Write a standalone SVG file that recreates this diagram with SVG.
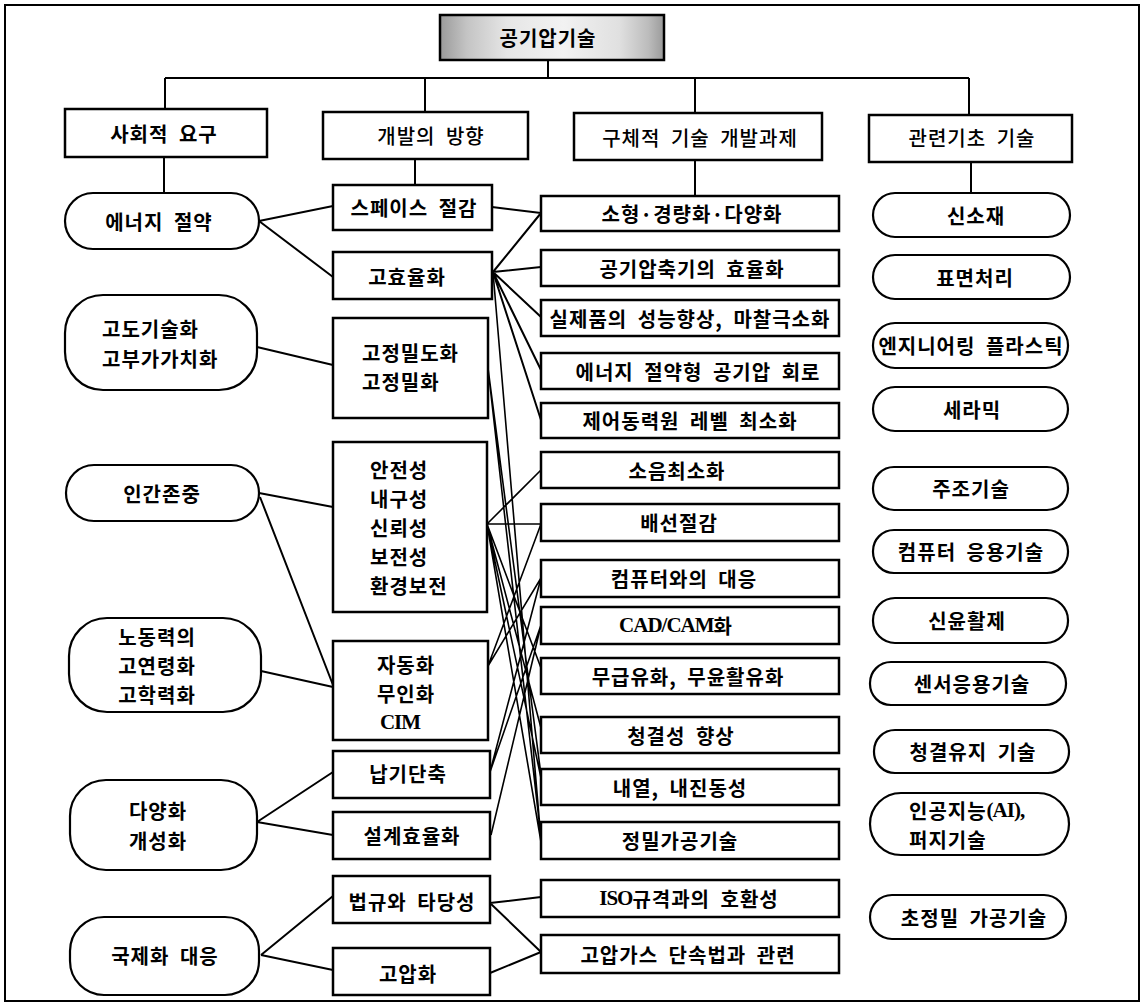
<svg xmlns="http://www.w3.org/2000/svg" width="1144" height="1005" viewBox="0 0 1144 1005">
<defs>
<linearGradient id="gTitle" x1="0" y1="0" x2="1" y2="0">
<stop offset="0" stop-color="#9a9a9a"/>
<stop offset="0.12" stop-color="#c4c4c4"/>
<stop offset="0.3" stop-color="#e6e6e6"/>
<stop offset="0.55" stop-color="#f2f2f2"/>
<stop offset="0.8" stop-color="#e0e0e0"/>
<stop offset="0.93" stop-color="#bcbcbc"/>
<stop offset="1" stop-color="#9a9a9a"/>
</linearGradient>
<style>
.box{fill:#fff;stroke:#000;stroke-width:2.5}
.rnd{fill:#fff;stroke:#000;stroke-width:2.2}
.t{font-family:"Noto Sans CJK KR","Noto Sans",sans-serif;font-size:20px;font-weight:700;letter-spacing:1px;word-spacing:5px;fill:#000;dominant-baseline:central}
.n{font-weight:500}
.c{text-anchor:middle}
.lat{font-family:"Liberation Serif",serif;font-size:21px;font-weight:700;letter-spacing:-1px}
.ln{fill:none;stroke:#000;stroke-width:2}
.lx{fill:none;stroke:#000;stroke-width:1.6}
</style>
</defs>
<rect x="0" y="0" width="1144" height="1005" fill="#fff"/>
<rect x="5" y="5" width="1134" height="996" fill="none" stroke="#000" stroke-width="2"/>

<g id="connectors">
<path class="ln" d="M548 60V78M165 78H969M165 78V109M425 78V112M695 78V113M969 78V115"/>
<path class="ln" d="M164 157V193M415 159V185M695 160V196M971 162V193"/>
<path class="ln" d="M259 221L333 206M259 221L333 277M257 347L333 365M259 493L333 507M260 497L333 685M261 671L333 687M257 822L333 772M257 822L333 835M261 955L333 896M261 955L333 970"/>
<path class="ln" d="M492 207L541 213M493 272L541 213M493 272L541 267M493 272L541 317M493 272L541 370M493 272L541 420"/>
<path class="lx" d="M493 272L541 840M488 368L541 775M488 368L541 838M487 524L541 470M487 524L541 524M487 524L541 668M487 524L541 728M487 524L541 778M487 524L541 842M488 666L541 524M488 666L541 578M490 772L541 578M490 772L541 625M491 835L541 625"/>
<path class="ln" d="M490 903L541 897M490 903L541 952M490 973L541 952"/>
</g>

<g id="title">
<rect x="440" y="15" width="224" height="45" fill="url(#gTitle)" stroke="#000" stroke-width="2.5"/>
<text class="t c" x="548" y="37">공기압기술</text>
</g>

<g id="h-social"><rect class="box" x="65" y="109" width="202" height="48"/><text class="t c" x="164" y="133">사회적 요구</text></g>
<g id="h-dev"><rect class="box" x="323" y="112" width="205" height="47"/><text class="t c n" x="431" y="135">개발의 방향</text></g>
<g id="h-task"><rect class="box" x="574" y="113" width="248" height="47"/><text class="t c n" x="700" y="137">구체적 기술 개발과제</text></g>
<g id="h-base"><rect class="box" x="869" y="115" width="203" height="47"/><text class="t c n" x="972" y="137">관련기초 기술</text></g>

<g id="s1"><rect class="rnd" x="65" y="193" width="194" height="56" rx="28"/><text class="t c" x="159" y="221">에너지 절약</text></g>
<g id="s2"><rect class="rnd" x="65" y="295" width="192" height="95" rx="38"/><text class="t" x="102" y="328">고도기술화</text><text class="t" x="102" y="358">고부가가치화</text></g>
<g id="s3"><rect class="rnd" x="66" y="465" width="193" height="56" rx="28"/><text class="t c" x="162" y="493">인간존중</text></g>
<g id="s4"><rect class="rnd" x="69" y="618" width="192" height="94" rx="38"/><text class="t c" x="157" y="636">노동력의</text><text class="t c" x="157" y="665">고연령화</text><text class="t c" x="157" y="694">고학력화</text></g>
<g id="s5"><rect class="rnd" x="70" y="780" width="187" height="90" rx="36"/><text class="t c" x="158" y="810">다양화</text><text class="t c" x="158" y="840">개성화</text></g>
<g id="s6"><rect class="rnd" x="70" y="917" width="189" height="78" rx="34"/><text class="t c" x="165" y="955">국제화 대응</text></g>

<g id="d1"><rect class="box" x="333" y="185" width="159" height="45"/><text class="t c" x="414" y="207">스페이스 절감</text></g>
<g id="d2"><rect class="box" x="333" y="252" width="159" height="47"/><text class="t c" x="407" y="276">고효율화</text></g>
<g id="d3"><rect class="box" x="333" y="318" width="155" height="100"/><text class="t" x="362" y="352">고정밀도화</text><text class="t" x="362" y="381">고정밀화</text></g>
<g id="d4"><rect class="box" x="333" y="442" width="154" height="170"/><text class="t" x="370" y="469">안전성</text><text class="t" x="370" y="498">내구성</text><text class="t" x="370" y="527">신뢰성</text><text class="t" x="370" y="556">보전성</text><text class="t" x="370" y="585">환경보전</text></g>
<g id="d5"><rect class="box" x="333" y="641" width="155" height="99"/><text class="t c" x="406" y="664">자동화</text><text class="t c" x="406" y="693">무인화</text><text class="t c lat" x="400" y="722">CIM</text></g>
<g id="d6"><rect class="box" x="333" y="751" width="157" height="47"/><text class="t c" x="408" y="773">납기단축</text></g>
<g id="d7"><rect class="box" x="333" y="812" width="157" height="47"/><text class="t c" x="412" y="835">설계효율화</text></g>
<g id="d8"><rect class="box" x="333" y="876" width="157" height="47"/><text class="t c" x="412" y="901">법규와 타당성</text></g>
<g id="d9"><rect class="box" x="333" y="948" width="157" height="47"/><text class="t c" x="408" y="973">고압화</text></g>

<g id="k1"><rect class="box" x="541" y="196" width="298" height="35"/><text class="t c" x="692" y="213">소형·경량화·다양화</text></g>
<g id="k2"><rect class="box" x="541" y="250" width="298" height="36"/><text class="t c" x="692" y="268">공기압축기의 효율화</text></g>
<g id="k3"><rect class="box" x="541" y="300" width="298" height="36"/><text class="t c" x="690" y="318">실제품의 성능향상, 마찰극소화</text></g>
<g id="k4"><rect class="box" x="541" y="353" width="298" height="36"/><text class="t c" x="698" y="371">에너지 절약형 공기압 회로</text></g>
<g id="k5"><rect class="box" x="541" y="403" width="298" height="35"/><text class="t c" x="690" y="420">제어동력원 레벨 최소화</text></g>
<g id="k6"><rect class="box" x="541" y="452" width="298" height="36"/><text class="t c" x="677" y="470">소음최소화</text></g>
<g id="k7"><rect class="box" x="541" y="504" width="298" height="37"/><text class="t c" x="679" y="522">배선절감</text></g>
<g id="k8"><rect class="box" x="541" y="560" width="298" height="37"/><text class="t c" x="684" y="578">컴퓨터와의 대응</text></g>
<g id="k9"><rect class="box" x="541" y="607" width="298" height="37"/><text class="t c" x="676" y="625"><tspan class="lat">CAD/CAM</tspan>화</text></g>
<g id="k10"><rect class="box" x="541" y="658" width="298" height="36"/><text class="t c" x="688" y="676">무급유화, 무윤활유화</text></g>
<g id="k11"><rect class="box" x="541" y="717" width="298" height="36"/><text class="t c" x="681" y="735">청결성 향상</text></g>
<g id="k12"><rect class="box" x="541" y="769" width="298" height="36"/><text class="t c" x="680" y="787">내열, 내진동성</text></g>
<g id="k13"><rect class="box" x="541" y="822" width="298" height="37"/><text class="t c" x="680" y="840">정밀가공기술</text></g>
<g id="k14"><rect class="box" x="541" y="880" width="298" height="37"/><text class="t c" x="689" y="898"><tspan class="lat">ISO</tspan>규격과의 호환성</text></g>
<g id="k15"><rect class="box" x="541" y="935" width="298" height="38"/><text class="t c" x="688" y="954">고압가스 단속법과 관련</text></g>

<g id="b1"><rect class="rnd" x="873" y="193" width="197" height="44" rx="22"/><text class="t c" x="976" y="215">신소재</text></g>
<g id="b2"><rect class="rnd" x="873" y="255" width="197" height="44" rx="22"/><text class="t c" x="975" y="277">표면처리</text></g>
<g id="b3"><rect class="rnd" x="873" y="323" width="195" height="45" rx="22"/><text class="t c" x="971" y="345">엔지니어링 플라스틱</text></g>
<g id="b4"><rect class="rnd" x="873" y="387" width="195" height="44" rx="22"/><text class="t c" x="972" y="409">세라믹</text></g>
<g id="b5"><rect class="rnd" x="873" y="467" width="195" height="43" rx="21"/><text class="t c" x="971" y="488">주조기술</text></g>
<g id="b6"><rect class="rnd" x="873" y="530" width="195" height="43" rx="21"/><text class="t c" x="971" y="551">컴퓨터 응용기술</text></g>
<g id="b7"><rect class="rnd" x="873" y="598" width="195" height="45" rx="22"/><text class="t c" x="967" y="620">신윤활제</text></g>
<g id="b8"><rect class="rnd" x="870" y="662" width="196" height="43" rx="21"/><text class="t c" x="972" y="683">센서응용기술</text></g>
<g id="b9"><rect class="rnd" x="874" y="730" width="195" height="43" rx="21"/><text class="t c" x="973" y="751">청결유지 기술</text></g>
<g id="b10"><rect class="rnd" x="870" y="793" width="199" height="62" rx="31"/><text class="t" x="909" y="810">인공지능<tspan class="lat">(AI),</tspan></text><text class="t" x="909" y="839">퍼지기술</text></g>
<g id="b11"><rect class="rnd" x="870" y="895" width="196" height="44" rx="22"/><text class="t c" x="974" y="917">초정밀 가공기술</text></g>
</svg>
